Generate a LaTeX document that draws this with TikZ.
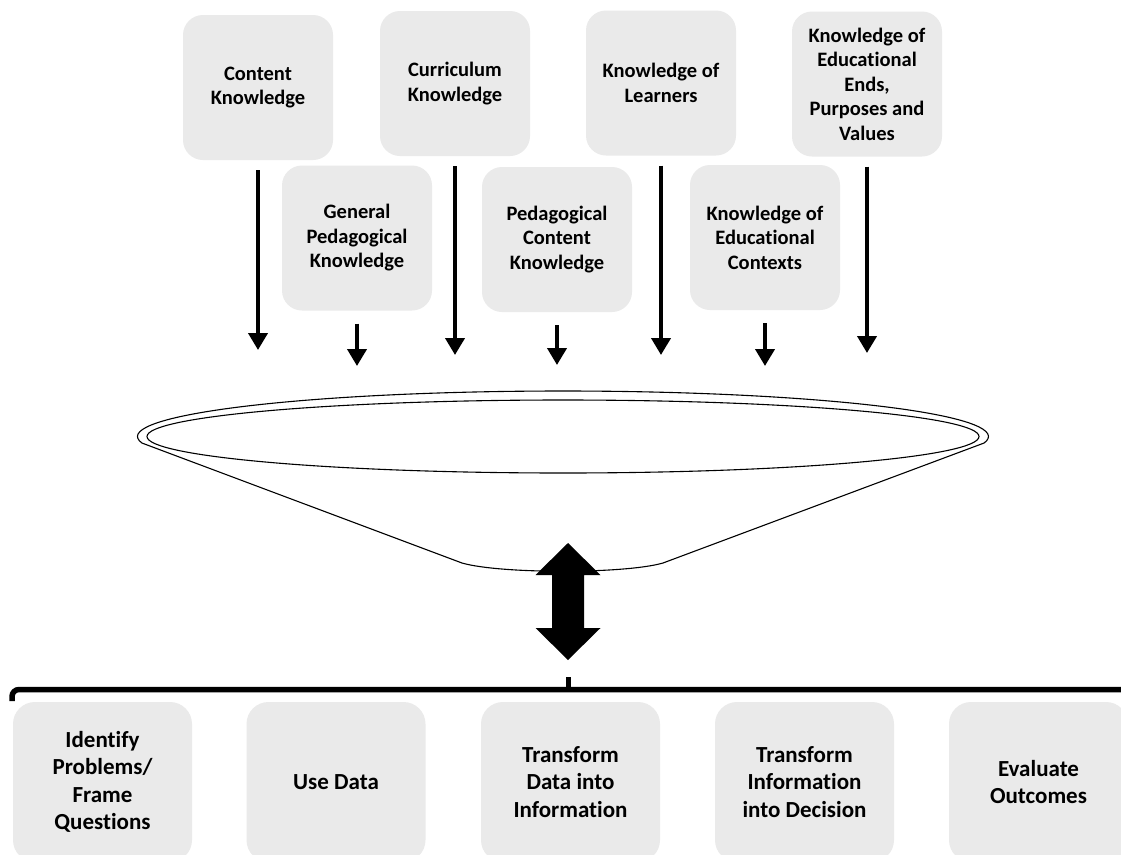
\documentclass[tikz,border=0pt]{standalone}
\usepackage{fontspec}
\setmainfont{Carlito}[Ligatures=NoCommon]
\usetikzlibrary{arrows.meta}
\definecolor{boxgray}{RGB}{234,234,234}
\tikzset{
  kbox/.style={fill=boxgray, rounded corners=20pt, minimum width=150pt, minimum height=145pt,
    align=center, inner sep=4pt, font=\bfseries\fontsize{20.5}{24.5}\selectfont},
  pbox/.style={fill=boxgray, rounded corners=22pt, minimum width=179pt, minimum height=160pt,
    align=center, inner sep=4pt, font=\bfseries\fontsize{23}{27.5}\selectfont},
  downarrow/.style={line width=4pt, -{Triangle[width=19pt,length=17pt]}},
  funnelline/.style={line width=1.1pt},
  bracketline/.style={line width=5.5pt},
}
\begin{document}
\begin{tikzpicture}[x=1pt,y=-1pt]
\clip (0,0) rectangle (1121,854);
\fill[white] (0,0) rectangle (1121,854);

% top row of knowledge boxes
\node[kbox] (ck)  at (258,87.5) {Content\\Knowledge};
\node[kbox] (cur) at (455,83.5) {Curriculum\\Knowledge};
\node[kbox] (kl)  at (661,83)   {Knowledge of\\Learners};
\node[kbox] (ke)  at (867,84)   {Knowledge of\\Educational\\Ends,\\Purposes and\\Values};
% second row
\node[kbox] (gpk) at (357,238)   {General\\Pedagogical\\Knowledge};
\node[kbox] (pck) at (557,239.5) {Pedagogical\\Content\\Knowledge};
\node[kbox] (kc)  at (765,237.5) {Knowledge of\\Educational\\Contexts};

% arrow tips
\coordinate (ckT)  at (258,350);
\coordinate (curT) at (455,355);
\coordinate (klT)  at (661,355);
\coordinate (keT)  at (867,353);
\coordinate (gpkT) at (357,366);
\coordinate (pckT) at (557,365);
\coordinate (kcT)  at (765,366);

\draw[downarrow] ([yshift=-10pt]ck.south)  -- (ckT);
\draw[downarrow] ([yshift=-10pt]cur.south) -- (curT);
\draw[downarrow] ([yshift=-10pt]kl.south)  -- (klT);
\draw[downarrow] ([yshift=-10pt]ke.south)  -- (keT);
\draw[downarrow] ([yshift=-13pt]gpk.south) -- (gpkT);
\draw[downarrow] ([yshift=-13pt]pck.south) -- (pckT);
\draw[downarrow] ([yshift=-13pt]kc.south)  -- (kcT);

% funnel
\coordinate (fc) at (563,436.5);
\draw[funnelline, fill=white] (fc) ++(171.8:425.5 and 45.5)
  arc[start angle=171.8, end angle=368.2, x radius=425.5, y radius=45.5]
  -- (663,563) .. controls (625,574) and (500,574) .. (462,563) -- cycle;
\draw[funnelline] (fc) ellipse [x radius=416, y radius=36.5];

% double arrow
\fill[black] (568,543) -- (600.5,575) -- (584,575) -- (584,628) -- (600.5,628)
  -- (568,660) -- (535.5,628) -- (552,628) -- (552,575) -- (535.5,575) -- cycle;

% bracket
\coordinate (bl) at (12,701);
\coordinate (bc) at (12,689.5);
\coordinate (br) at (1135,689.5);
\coordinate (bt) at (568.5,677);
\draw[bracketline, rounded corners=7pt] (bl) -- (bc) -- (br);
\draw[bracketline] (bt) -- (bt |- br);

% process boxes
\node[pbox] (ip) at (102.5,782) {Identify\\Problems/\\Frame\\Questions};
\node[pbox] (ud) at (336,782)   {Use Data};
\node[pbox] (td) at (570.5,782) {Transform\\Data into\\Information};
\node[pbox] (ti) at (804.5,782) {Transform\\Information\\into Decision};
\node[pbox] (eo) at (1038.5,782) {Evaluate\\Outcomes};
\end{tikzpicture}
\end{document}
